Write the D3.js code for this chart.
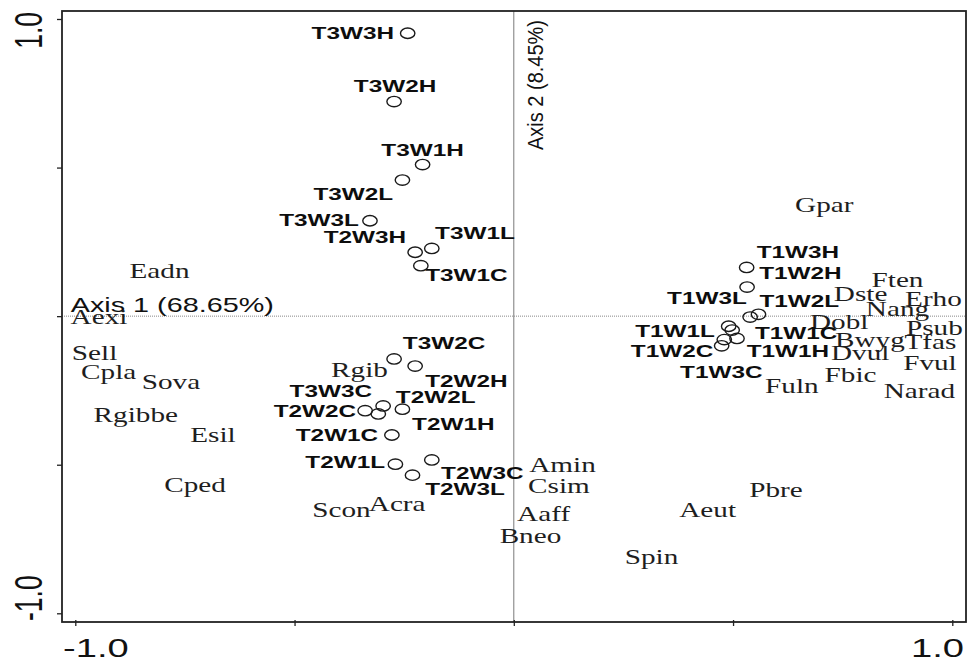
<!DOCTYPE html>
<html>
<head>
<meta charset="utf-8">
<script src="https://cdn.jsdelivr.net/npm/d3@7"></script>
<style>
  html, body { margin: 0; padding: 0; background: #fff; }
  svg { display: block; }
</style>
</head>
<body>
<svg id="chart" width="968" height="661"></svg>
<script>
// Ordination scores: sampling units (circles) and species (text labels)
const samples = [
  "T3W3H", "T3W2H", "T3W1H", "T3W2L", "T3W3L", "T2W3H", "T3W1L", "T3W1C",
  "T3W2C", "T2W2H", "T2W2C", "T3W3C", "T2W2L", "T2W1H", "T2W1C", "T2W1L",
  "T2W3C", "T2W3L",
  "T1W3H", "T1W2H", "T1W3L", "T1W2L", "T1W1L", "T1W1C", "T1W1H", "T1W3C", "T1W2C"
];
const sampleAxis1 = [
  -0.242, -0.273, -0.208, -0.254, -0.328, -0.225, -0.187, -0.212,
  -0.273, -0.225, -0.339, -0.309, -0.298, -0.254, -0.278, -0.270,
  -0.187, -0.231,
  0.531, 0.532, 0.539, 0.558, 0.490, 0.498, 0.509, 0.480, 0.474
];
const sampleAxis2 = [
  0.952, 0.722, 0.510, 0.458, 0.321, 0.215, 0.228, 0.170,
  -0.144, -0.168, -0.318, -0.329, -0.302, -0.313, -0.400, -0.498,
  -0.484, -0.535,
  0.164, 0.098, -0.003, 0.006, -0.034, -0.047, -0.075, -0.079, -0.100
];

const species = [
  "Eadn", "Aexi", "Sell", "Cpla", "Sova", "Rgibbe", "Esil", "Cped",
  "Rgib", "Scon", "Acra", "Amin", "Csim", "Aaff", "Bneo", "Spin",
  "Aeut", "Pbre", "Gpar", "Ften", "Dste", "Erho", "Nang", "Dobl",
  "Psub", "Bwyg", "Tfas", "Dvul", "Fvul", "Fbic", "Fuln", "Narad"
];
const speciesAxis1 = [
  -0.808, -0.946, -0.956, -0.924, -0.782, -0.862, -0.686, -0.727,
  -0.352, -0.393, -0.266, 0.111, 0.103, 0.068, 0.038, 0.314,
  0.442, 0.598, 0.708, 0.875, 0.791, 0.957, 0.875, 0.742,
  0.959, 0.812, 0.950, 0.790, 0.949, 0.768, 0.634, 0.925
];
const speciesAxis2 = [
  0.152, -0.004, -0.125, -0.190, -0.221, -0.333, -0.402, -0.569,
  -0.183, -0.653, -0.633, -0.503, -0.574, -0.666, -0.742, -0.810,
  -0.655, -0.585, 0.374, 0.121, 0.074, 0.056, 0.023, -0.019,
  -0.041, -0.081, -0.089, -0.125, -0.157, -0.198, -0.235, -0.254
];

const tickValues = [-1, -0.5, 0, 0.5, 1];
const labelledTicks = [-1, 1];
const labelledTickText = ["-1.0", "1.0"];
const axis1Title = "Axis 1 (68.65%)";
const axis2Title = "Axis 2 (8.45%)";

// Where each sample label sits relative to its circle: [anchor, dx, dy(baseline)]
const sampleLabelPlacement = {
  T3W3H: ["end", -13.7, 5.7],  T3W2H: ["middle", 1, -9.7],
  T3W1H: ["middle", 0, -8.7],  T3W2L: ["end", -9.3, 20],
  T3W3L: ["end", -11, 5.3],    T2W3H: ["end", -9, -9.3],
  T3W1L: ["start", 3.3, -9.3], T3W1C: ["start", 4.3, 15.3],
  T3W2C: ["start", 8.7, -9.7], T2W2H: ["start", 10, 20.7],
  T2W2C: ["end", -9, 6],       T3W3C: ["end", -6.3, -17],
  T2W2L: ["start", 12.7, -2.7], T2W1H: ["start", 9.7, 20.7],
  T2W1C: ["end", -13.7, 5.7],  T2W1L: ["end", -10.3, 4.3],
  T2W3C: ["start", 9.3, 19.3], T2W3L: ["start", 12.7, 20],
  T1W3H: ["start", 10, -9],    T1W2H: ["start", 12.1, -8],
  T1W3L: ["end", -3.3, -13],   T1W2L: ["start", 1, -7.2],
  T1W1L: ["end", -13.8, 10.4], T1W1C: ["start", 22.8, 9.3],
  T1W1H: ["start", 9.7, 18.4], T1W3C: ["middle", -3, 38.6],
  T1W2C: ["end", -8.4, 10.9]
};

// Layout
const frame = { left: 62, top: 11, right: 966, bottom: 622 };
const SX = 1.44; // horizontal widening applied to all lettering
const sansFont = "'Liberation Sans', Arial, sans-serif";
const serifFont = "'Liberation Serif', 'Times New Roman', serif";

const svg = d3.select("#chart");

const x = d3.scaleLinear().domain([-1, 1]).range([75.3, 952.3]);
const y = d3.scaleLinear().domain([-1, 1]).range([613.3, 19]);

// Origin lines: vertical solid, horizontal dotted
svg.append("line")
  .attr("x1", x(0)).attr("x2", x(0))
  .attr("y1", frame.top).attr("y2", frame.bottom)
  .attr("stroke", "#7a7a7a").attr("stroke-width", 1);
svg.append("line")
  .attr("x1", frame.left).attr("x2", frame.right)
  .attr("y1", y(0)).attr("y2", y(0))
  .attr("stroke", "#888").attr("stroke-width", 1)
  .attr("stroke-dasharray", "1,1");

// Frame
svg.append("rect")
  .attr("x", frame.left).attr("y", frame.top)
  .attr("width", frame.right - frame.left)
  .attr("height", frame.bottom - frame.top)
  .attr("fill", "none").attr("stroke", "#222").attr("stroke-width", 1.8);

// Axes (ticks only; the frame provides the axis lines)
const gx = svg.append("g")
  .attr("transform", `translate(0,${frame.bottom})`)
  .call(d3.axisBottom(x).tickValues(tickValues).tickSize(4).tickFormat(""));
gx.select(".domain").remove();
gx.selectAll(".tick line").attr("y1", -2).attr("stroke", "#222").attr("stroke-width", 1.3);

const gy = svg.append("g")
  .attr("transform", `translate(${frame.left},0)`)
  .call(d3.axisLeft(y).tickValues(tickValues).tickSize(5).tickFormat(""));
gy.select(".domain").remove();
gy.selectAll(".tick line").attr("stroke", "#222").attr("stroke-width", 1.3);

// Text helper: lettering widened horizontally around its anchor point
const wideText = (g, tx, ty, txt, opts) => {
  const t = g.append("text")
    .attr("transform", `translate(${tx},${ty}) scale(${opts.sx || SX},1)` + (opts.rotate ? ` rotate(${opts.rotate})` : ""))
    .attr("text-anchor", opts.anchor || "start")
    .attr("font-family", opts.family || sansFont)
    .attr("font-size", opts.size)
    .attr("font-weight", opts.weight || "normal")
    .attr("fill", opts.fill || "#111")
    .text(txt);
  if (opts.dy) t.attr("dy", opts.dy);
  return t;
};

// Tick labels at the ends of each axis
labelledTicks.forEach((v, i) => {
  const first = i === 0;
  wideText(svg, first ? frame.left + 1 : frame.right - 2, 656.5, labelledTickText[i],
    { anchor: first ? "start" : "end", size: 26.5, fill: "#111" });
  wideText(svg, 42, first ? frame.bottom - 1 : frame.top + 1, labelledTickText[i],
    { anchor: first ? "start" : "end", size: 26.5, rotate: -90, fill: "#111" });
});

// Axis titles
wideText(svg, 70.7, 311.5, axis1Title, { size: 20, fill: "#111" });
wideText(svg, 542.5, 150, axis2Title, { size: 20, rotate: -90, sx: 1.12, fill: "#111" });

// Species labels
const speciesData = species.map((name, i) => ({ name, a1: speciesAxis1[i], a2: speciesAxis2[i] }));
const gs = svg.append("g");
speciesData.forEach(d => {
  wideText(gs, x(d.a1), y(d.a2), d.name,
    { anchor: "middle", size: 20.3, family: serifFont, fill: "#1e1e1e", dy: "0.33em" });
});

// Sample labels and circles
const sampleData = samples.map((name, i) => ({ name, a1: sampleAxis1[i], a2: sampleAxis2[i] }));
const gl = svg.append("g");
sampleData.forEach(d => {
  const [anchor, dx, dy] = sampleLabelPlacement[d.name];
  wideText(gl, x(d.a1) + dx, y(d.a2) + dy, d.name,
    { anchor, size: 16.9, weight: "bold", fill: "#0d0d0d" });
});

svg.append("g").selectAll("ellipse")
  .data(sampleData)
  .join("ellipse")
  .attr("cx", d => x(d.a1))
  .attr("cy", d => y(d.a2))
  .attr("rx", 7.2)
  .attr("ry", 5.2)
  .attr("fill", "none")
  .attr("stroke", "#1a1a1a")
  .attr("stroke-width", 1.4);
</script>
</body>
</html>
